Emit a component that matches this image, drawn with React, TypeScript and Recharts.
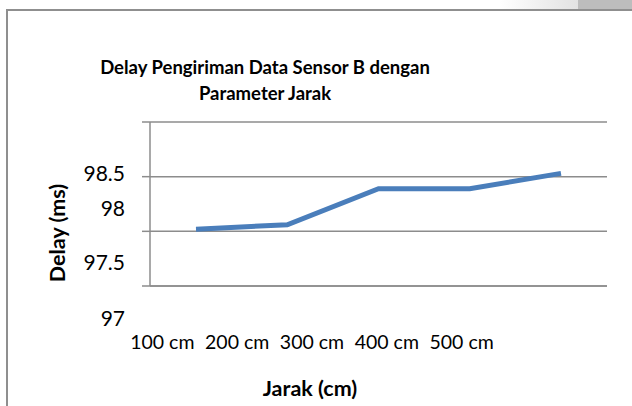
import { LineChart, Line, CartesianGrid, XAxis, YAxis, Label } from "recharts";

const jarak = ["100 cm", "200 cm", "300 cm", "400 cm", "500 cm"];
const delay = [98.02, 98.06, 98.39, 98.39, 98.53];
const gridTicks = [97.5, 98, 98.5, 99];
const yLabels = ["98.5", "98", "97.5", "97"];

const data = jarak.map((j, i) => ({ jarak: j, delay: delay[i] }));

const FONT = "Lato, 'Open Sans', sans-serif";
const GRID = "#8c8c8c";

// the original printout has its value labels shifted off the gridlines
function YTick(props: any) {
  const { y, payload } = props;
  const v = payload.value;
  const common = { x: 125, textAnchor: "end" as const, fontSize: 21, fill: "#000", fontFamily: FONT, dominantBaseline: "central" as const };
  if (v === 98.5) return <text {...common} y={y - 4}>{yLabels[0]}</text>;
  if (v === 98) return <text {...common} y={y - 24}>{yLabels[1]}</text>;
  if (v === 97.5)
    return (
      <g>
        <text {...common} y={y - 25}>{yLabels[2]}</text>
        <text {...common} y={y + 31}>{yLabels[3]}</text>
      </g>
    );
  return <g />;
}

// category labels are squeezed together under the plot in the original
function XTick(props: any) {
  const { x, y, payload } = props;
  const lx = 312 + (x - 378.5) * 0.82;
  return (
    <text x={lx} y={y + 3} textAnchor="middle" dominantBaseline="central" fontSize={19.5} fill="#000" fontFamily={FONT}>
      {payload.value}
    </text>
  );
}

export default function App() {
  return (
    <div style={{ position: "absolute", left: 0, top: 0, width: 632, height: 406, background: "#fff", overflow: "hidden" }}>
      <div style={{ position: "absolute", left: 500, top: 0, width: 132, height: 9, background: "linear-gradient(90deg, #ffffff 0%, #e6e6e6 50%, #d2d2d2 100%)" }} />
      <div style={{ position: "absolute", left: 578, top: 0, width: 54, height: 9, background: "#bdbdbd" }} />
      <div style={{ position: "absolute", left: 65, top: 54, width: 400, textAlign: "center", fontFamily: FONT, fontWeight: 700, fontSize: 18.5, lineHeight: "26px", color: "#000" }}>
        Delay Pengiriman Data Sensor B dengan<br />Parameter Jarak
      </div>
      <div style={{ position: "absolute", left: 0, top: 0 }}>
        <LineChart width={632} height={406} data={data} margin={{ top: 122, right: 25, bottom: 0, left: 0 }}>
          <CartesianGrid vertical={false} stroke={GRID} strokeWidth={1.5} />
          <XAxis
            dataKey="jarak"
            height={120}
            padding={{ left: 46, right: 46 }}
            tickLine={false}
            axisLine={{ stroke: GRID, strokeWidth: 1.5 }}
            tickMargin={46}
            tick={<XTick />}
            interval={0}
          >
            <Label
              content={(p: any) => (
                <text x={310} y={p.viewBox.y + 102} textAnchor="middle" dominantBaseline="central" fontFamily={FONT} fontWeight={700} fontSize={21.5} fill="#000">
                  Jarak (cm)
                </text>
              )}
            />
          </XAxis>
          <YAxis
            width={150}
            domain={[97.5, 99]}
            ticks={gridTicks}
            interval={0}
            tickSize={8}
            tickLine={{ stroke: GRID, strokeWidth: 1.5 }}
            axisLine={{ stroke: GRID, strokeWidth: 1.5 }}
            tick={<YTick />}
          >
            <Label
              content={(p: any) => {
                const cx = 57;
                const cy = p.viewBox.y + p.viewBox.height / 2 + 29;
                return (
                  <text x={cx} y={cy} transform={`rotate(-90, ${cx}, ${cy})`} textAnchor="middle" dominantBaseline="central" fontFamily={FONT} fontWeight={700} fontSize={21.5} fill="#000">
                    Delay (ms)
                  </text>
                );
              }}
            />
          </YAxis>
          <Line type="linear" dataKey="delay" stroke="#4a7ebb" strokeWidth={5} dot={false} isAnimationActive={false} />
        </LineChart>
      </div>
      <div style={{ position: "absolute", left: 6, top: 9, width: 626, height: 2, background: "#8f8f8f" }} />
      <div style={{ position: "absolute", left: 6, top: 9, width: 2, height: 397, background: "#8f8f8f" }} />
    </div>
  );
}
